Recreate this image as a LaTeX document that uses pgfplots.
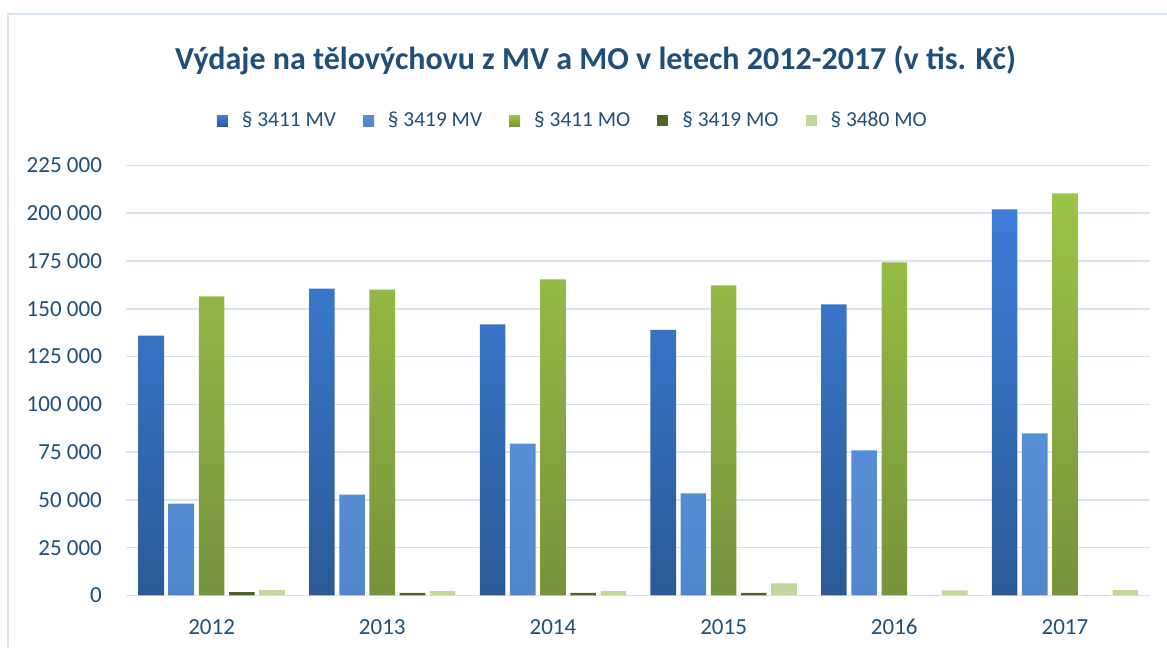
\documentclass[border=0pt]{standalone}
\usepackage{pgfplots}
\pgfplotsset{compat=1.18}
\usepackage{fontspec}
\setmainfont{Carlito}
\definecolor{txt}{HTML}{1F4E79}
\definecolor{gridc}{HTML}{D9E4F2}
\definecolor{mvA}{HTML}{3C7DD9}
\definecolor{mvAd}{HTML}{2B5B96}
\definecolor{mvB}{HTML}{578FD6}
\definecolor{mvBd}{HTML}{4F86CC}
\definecolor{moA}{HTML}{9DC447}
\definecolor{moAd}{HTML}{76923C}
\definecolor{moB}{HTML}{4F6228}
\definecolor{moC}{HTML}{C3D69B}
\begin{document}
\begin{tikzpicture}[x=1pt,y=1pt]
\path[use as bounding box] (0,0) rectangle (583.5,324);
\draw[gridc, line width=1pt] (4,0) -- (4,317) -- (583.5,317);
\node[txt, anchor=base, font=\fontsize{16}{18}\selectfont\bfseries] at (297.75,289) {Výdaje na tělovýchovu z MV a MO v letech 2012-2017 (v tis. Kč)};
\begin{axis}[
  at={(74,27.5)}, anchor=south west,
  scale only axis, width=512pt, height=215pt,
  xmin=-0.5, xmax=5.5, ymin=0, ymax=225000,
  ybar=2.3pt, bar width=12.8pt,
  xtick={0,1,2,3,4,5}, xticklabels={2012,2013,2014,2015,2016,2017},
  ytick={0,25000,50000,75000,100000,125000,150000,175000,200000,225000},
  yticklabels={0,25 000,50 000,75 000,100 000,125 000,150 000,175 000,200 000,225 000},
  scaled y ticks=false,
  axis line style={draw=none},
  major tick length=0pt,
  ymajorgrids, grid style={gridc, line width=0.8pt},
  tick label style={txt, font=\fontsize{11.5}{13}\selectfont, inner sep=0pt},
  yticklabel style={xshift=-12pt},
  xticklabel style={anchor=base, yshift=-19.5pt},
  legend columns=5,
  legend style={at={(0.437,1.1034)}, anchor=center, draw=none, fill=none,
    font=\fontsize{10.7}{12}\selectfont, text=txt,
    /tikz/every odd column/.append style={column sep=5pt},
    /tikz/every even column/.append style={column sep=11.5pt}},
  legend image code/.code={\path[#1] (0pt,-2.75pt) rectangle (5.5pt,2.75pt);},
]
\addplot[draw=none, top color=mvA, bottom color=mvAd] coordinates {(0,136000) (1,160500) (2,141800) (3,139000) (4,152300) (5,202000)};
\addplot[draw=none, top color=mvB, bottom color=mvBd] coordinates {(0,48000) (1,52800) (2,79500) (3,53400) (4,75900) (5,84800)};
\addplot[draw=none, top color=moA, bottom color=moAd] coordinates {(0,156500) (1,160000) (2,165400) (3,162200) (4,174300) (5,210400)};
\addplot[draw=none, fill=moB] coordinates {(0,1700) (1,1300) (2,1300) (3,1300) (4,0) (5,0)};
\addplot[draw=none, fill=moC] coordinates {(0,2800) (1,2300) (2,2300) (3,6300) (4,2600) (5,2800)};
\legend{§ 3411 MV, § 3419 MV, § 3411 MO, § 3419 MO, § 3480 MO}
\end{axis}
\end{tikzpicture}
\end{document}
